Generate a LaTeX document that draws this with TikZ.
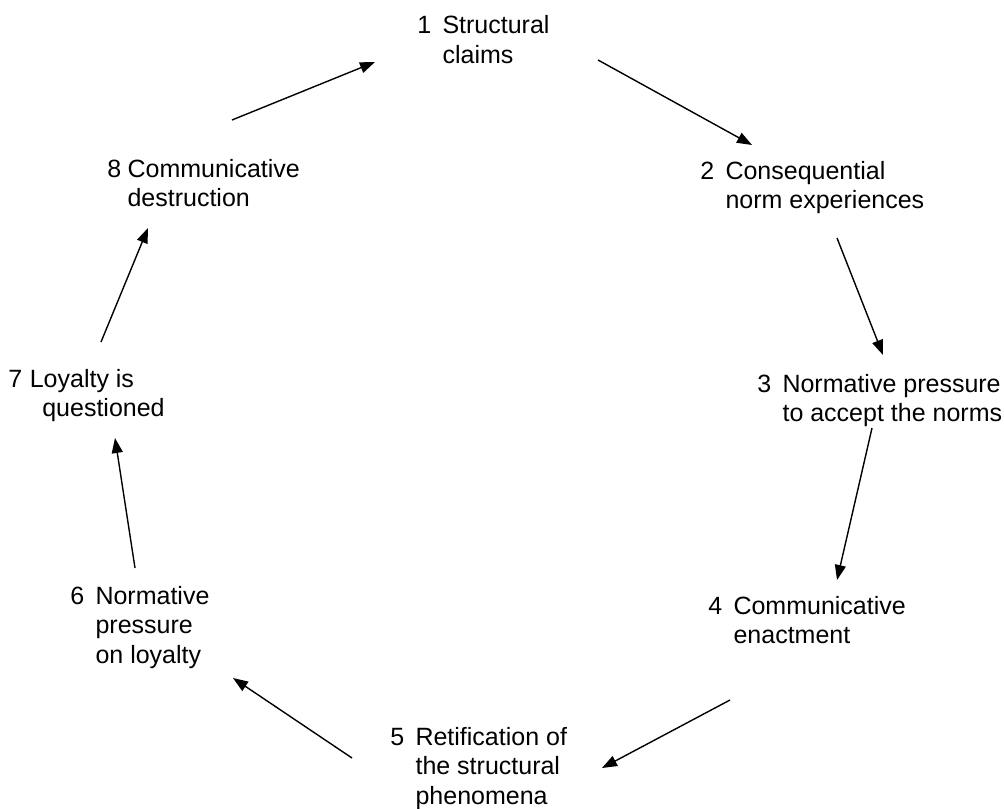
\documentclass[tikz,border=0pt]{standalone}
\usepackage{fontspec}
\setmainfont{Liberation Sans}
\usepackage{tikz}
\usetikzlibrary{arrows.meta}

\newcommand{\stagetext}[3][0.45em]{\begin{tabular}[t]{@{}l@{\hspace{#1}}l@{}}#2 & #3\end{tabular}}

\begin{document}
\begin{tikzpicture}[x=0.5pt,y=-0.5pt,
    stage/.style={inner sep=0pt,anchor=base west,font=\fontsize{12.5}{14.8}\selectfont},
    flow/.style={-{Triangle[length=7.5pt,width=5.5pt]},line width=0.7pt}]
  \useasboundingbox (0,0) rectangle (1004,808);
  % stages of the cycle
  \node[stage] (s1) at (417,34)  {\stagetext{1}{Structural\\ & claims}};
  \node[stage] (s2) at (700,179) {\stagetext{2}{Consequential\\ & norm experiences}};
  \node[stage] (s3) at (757,392) {\stagetext{3}{Normative pressure\\ & to accept the norms}};
  \node[stage] (s4) at (708,614) {\stagetext{4}{Communicative\\ & enactment}};
  \node[stage] (s5) at (390,745) {\stagetext{5}{Retification of\\ & the structural\\ & phenomena}};
  \node[stage] (s6) at (70,604)  {\stagetext{6}{Normative\\ & pressure\\ & on loyalty}};
  \node[stage] (s7) at (8,387)   {\stagetext[0.3em]{7}{Loyalty is\\ & \hspace{0.5em}questioned}};
  \node[stage] (s8) at (107,177) {\stagetext[0.25em]{8}{Communicative\\ & destruction}};
  % arrow ends
  \coordinate (t1) at (232,120); \coordinate (h1) at (375,62);
  \coordinate (t2) at (598,60);  \coordinate (h2) at (752,145);
  \coordinate (t3) at (837,238); \coordinate (h3) at (883,355);
  \coordinate (t4) at (872,428); \coordinate (h4) at (837,580);
  \coordinate (t5) at (730,700); \coordinate (h5) at (602,768);
  \coordinate (t6) at (352,758); \coordinate (h6) at (233,678);
  \coordinate (t7) at (135,568); \coordinate (h7) at (115,438);
  \coordinate (t8) at (101,342); \coordinate (h8) at (148,228);
  \foreach \i in {1,...,8}{
    \draw[flow] (t\i) -- (h\i);
  }
\end{tikzpicture}
\end{document}
